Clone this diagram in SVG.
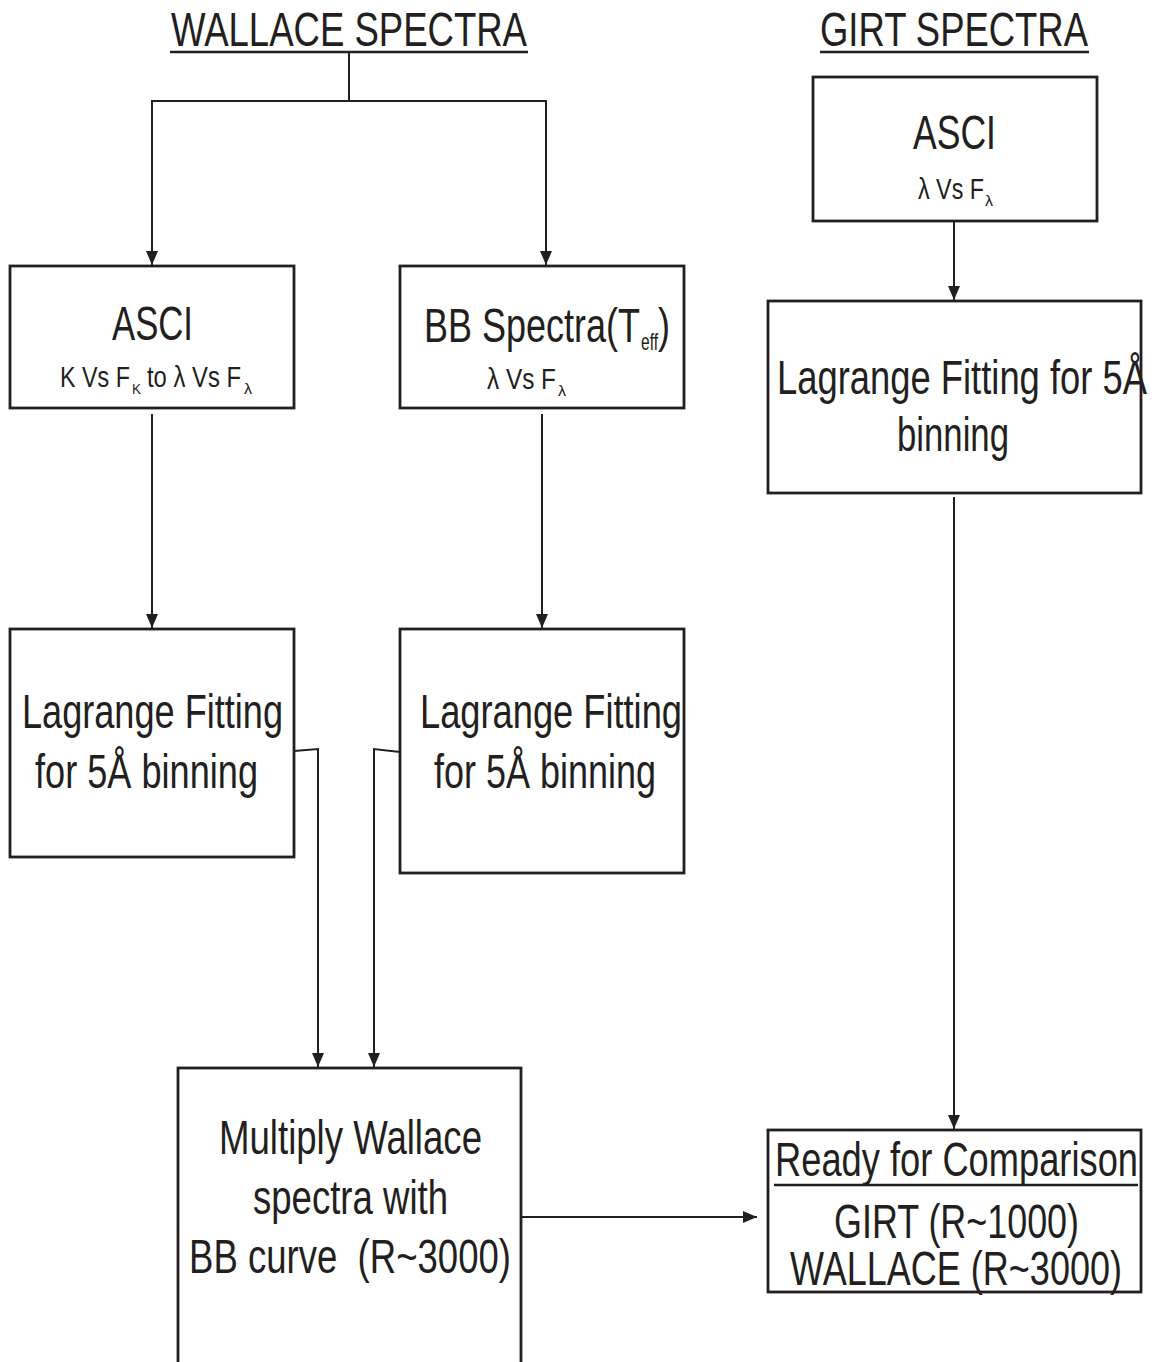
<svg xmlns="http://www.w3.org/2000/svg" width="1156" height="1362" viewBox="0 0 1156 1362">
<style>
text{font-family:"Liberation Sans Narrow","Liberation Sans",Arial,sans-serif;fill:#231f20}
.big{font-size:49px}
.sm{font-size:30px}
.sub{font-size:15px}
.box{fill:#fff;stroke:#231f20;stroke-width:2.8}
.con{fill:none;stroke:#231f20;stroke-width:2}
.ul{stroke:#231f20;stroke-width:2.5}
</style>
<defs>
<marker id="ah" markerWidth="14" markerHeight="12" refX="14" refY="6" orient="auto" markerUnits="userSpaceOnUse">
<path d="M0,0 L14,6 L0,12 Z" fill="#231f20"/>
</marker>
</defs>
<rect width="1156" height="1362" fill="#fff"/>

<g id="title-wallace">
<text class="big" x="171" y="46" textLength="356" lengthAdjust="spacingAndGlyphs">WALLACE SPECTRA</text>
<line class="ul" x1="170" y1="52" x2="528" y2="52"/>
</g>
<g id="title-girt">
<text class="big" x="820" y="46" textLength="268" lengthAdjust="spacingAndGlyphs">GIRT SPECTRA</text>
<line class="ul" x1="820" y1="52" x2="1089" y2="52"/>
</g>

<g id="connectors">
<line class="con" x1="349" y1="52" x2="349" y2="101"/>
<line class="con" x1="152" y1="101" x2="546" y2="101"/>
<line class="con" x1="152" y1="100" x2="152" y2="265" marker-end="url(#ah)"/>
<line class="con" x1="546" y1="100" x2="546" y2="265" marker-end="url(#ah)"/>
<line class="con" x1="152" y1="414" x2="152" y2="628" marker-end="url(#ah)"/>
<line class="con" x1="542" y1="414" x2="542" y2="628" marker-end="url(#ah)"/>
<line class="con" x1="954" y1="221" x2="954" y2="300" marker-end="url(#ah)"/>
<line class="con" x1="954" y1="497" x2="954" y2="1129" marker-end="url(#ah)"/>
<polyline class="con" points="294,751 318,749 318,1067" marker-end="url(#ah)"/>
<polyline class="con" points="400,752 374,749 374,1067" marker-end="url(#ah)"/>
<line class="con" x1="521" y1="1217" x2="757" y2="1217" marker-end="url(#ah)"/>
</g>

<g id="asci-wallace">
<rect class="box" x="10" y="266" width="284" height="142"/>
<text class="big" x="112" y="340" textLength="81" lengthAdjust="spacingAndGlyphs">ASCI</text>
<text class="sm" x="60" y="387" textLength="70" lengthAdjust="spacingAndGlyphs">K Vs F</text>
<text class="sub" x="132" y="394" textLength="9" lengthAdjust="spacingAndGlyphs">K</text>
<text class="sm" x="147" y="387" textLength="94" lengthAdjust="spacingAndGlyphs">to λ Vs F</text>
<text class="sub" x="244" y="394" textLength="8" lengthAdjust="spacingAndGlyphs">λ</text>
</g>

<g id="bb-spectra">
<rect class="box" x="400" y="266" width="284" height="142"/>
<text class="big" x="424" y="342" textLength="216" lengthAdjust="spacingAndGlyphs">BB Spectra(T</text>
<text x="641" y="350" font-size="24" textLength="17" lengthAdjust="spacingAndGlyphs">eff</text>
<text class="big" x="658" y="342" textLength="12" lengthAdjust="spacingAndGlyphs">)</text>
<text class="sm" x="487" y="389" textLength="69" lengthAdjust="spacingAndGlyphs">λ Vs F</text>
<text class="sub" x="558" y="396" textLength="8" lengthAdjust="spacingAndGlyphs">λ</text>
</g>

<g id="asci-girt">
<rect class="box" x="813" y="77" width="284" height="144"/>
<text class="big" x="913" y="149" textLength="83" lengthAdjust="spacingAndGlyphs">ASCI</text>
<text class="sm" x="918" y="199" textLength="66" lengthAdjust="spacingAndGlyphs">λ Vs F</text>
<text class="sub" x="985" y="206" textLength="8" lengthAdjust="spacingAndGlyphs">λ</text>
</g>

<g id="lagrange-girt">
<rect class="box" x="768" y="301" width="373" height="192"/>
<text class="big" x="777" y="394" textLength="370" lengthAdjust="spacingAndGlyphs">Lagrange Fitting for 5Å</text>
<text class="big" x="897" y="451" textLength="112" lengthAdjust="spacingAndGlyphs">binning</text>
</g>

<g id="lagrange-wallace">
<rect class="box" x="10" y="629" width="284" height="228"/>
<text class="big" x="22" y="728" textLength="261" lengthAdjust="spacingAndGlyphs">Lagrange Fitting</text>
<text class="big" x="35" y="788" textLength="223" lengthAdjust="spacingAndGlyphs">for 5Å binning</text>
</g>

<g id="lagrange-bb">
<rect class="box" x="400" y="629" width="284" height="244"/>
<text class="big" x="420" y="728" textLength="262" lengthAdjust="spacingAndGlyphs">Lagrange Fitting</text>
<text class="big" x="434" y="788" textLength="222" lengthAdjust="spacingAndGlyphs">for 5Å binning</text>
</g>

<g id="multiply">
<rect class="box" x="178" y="1068" width="343" height="320"/>
<text class="big" x="219" y="1154" textLength="263" lengthAdjust="spacingAndGlyphs">Multiply Wallace</text>
<text class="big" x="253" y="1214" textLength="195" lengthAdjust="spacingAndGlyphs">spectra with</text>
<text class="big" x="189" y="1273" textLength="322" lengthAdjust="spacingAndGlyphs" xml:space="preserve">BB curve  (R~3000)</text>
</g>

<g id="ready">
<rect class="box" x="768" y="1130" width="373" height="162"/>
<text class="big" x="775" y="1176" textLength="363" lengthAdjust="spacingAndGlyphs">Ready for Comparison</text>
<line class="ul" x1="774" y1="1185" x2="1138" y2="1185"/>
<text class="big" x="834" y="1238" textLength="245" lengthAdjust="spacingAndGlyphs">GIRT (R~1000)</text>
<text class="big" x="790" y="1285" textLength="332" lengthAdjust="spacingAndGlyphs">WALLACE (R~3000)</text>
</g>
</svg>
